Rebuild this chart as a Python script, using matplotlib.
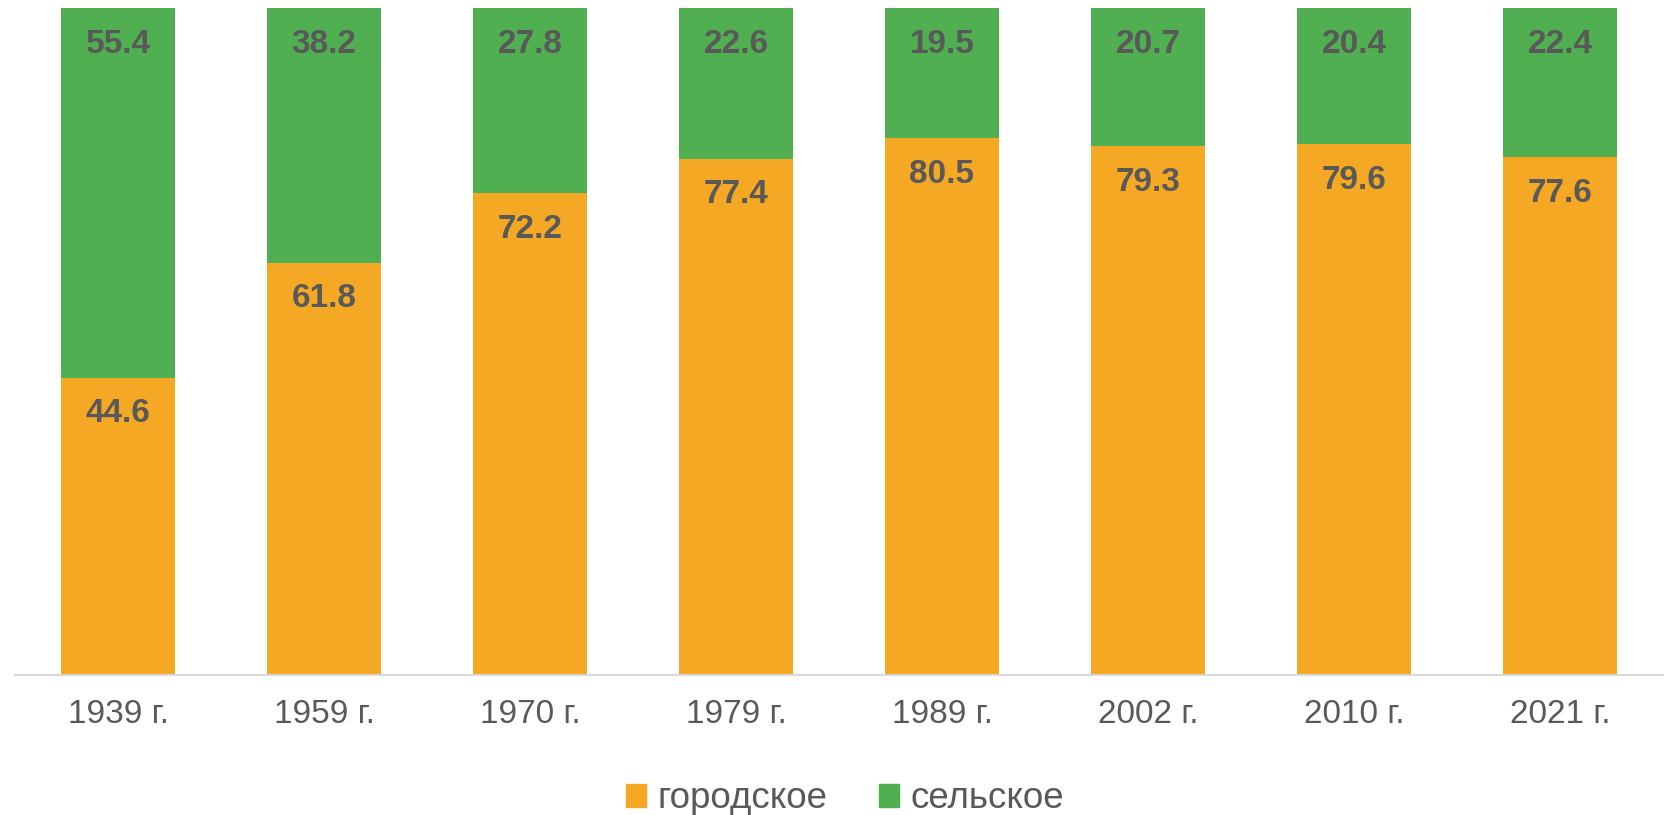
import matplotlib
matplotlib.use("Agg")
import matplotlib.pyplot as plt
from matplotlib.patches import Patch

plt.rcParams['font.family'] = ['Liberation Sans', 'DejaVu Sans']

years = ["1939 г.", "1959 г.", "1970 г.", "1979 г.", "1989 г.", "2002 г.", "2010 г.", "2021 г."]
urban = [44.6, 61.8, 72.2, 77.4, 80.5, 79.3, 79.6, 77.6]
rural = [55.4, 38.2, 27.8, 22.6, 19.5, 20.7, 20.4, 22.4]
series_names = ["городское", "сельское"]

c_urban = "#F5A824"
c_rural = "#50AF50"
c_text = "#595959"

fig = plt.figure(figsize=(16.73, 8.15), dpi=100)
ax = fig.add_axes([15/1673, 1-675/815, (1663-15)/1673, (675-8)/815])

x = list(range(len(years)))
w = 0.553
b1 = ax.bar(x, urban, width=w, color=c_urban, label=series_names[0])
b2 = ax.bar(x, rural, width=w, bottom=urban, color=c_rural, label=series_names[1])

for bars, vals, bottoms in ((b1, urban, [0]*len(urban)), (b2, rural, urban)):
    for xi, v, b in zip(x, vals, bottoms):
        ax.annotate(f"{v:.1f}", xy=(xi, b + v), xytext=(0, -26), textcoords="offset points",
                    ha="center", va="center", fontsize=24, fontweight="bold", color=c_text)

ax.set_xlim(-0.5, len(years) - 0.5)
ax.set_ylim(0, 100)
ax.set_yticks([])
ax.set_xticks(x)
ax.set_xticklabels(years, fontsize=24, color=c_text)
ax.tick_params(axis="x", length=0, pad=17)
for s in ("left", "right", "top"):
    ax.spines[s].set_visible(False)
ax.spines["bottom"].set_color("#D9D9D9")
ax.spines["bottom"].set_linewidth(1.5)

handles = [Patch(color=c_urban), Patch(color=c_rural)]
fig.legend(handles, series_names, loc="center", bbox_to_anchor=(845/1673, 1-799/815),
           ncol=2, frameon=False, fontsize=26.5, handlelength=0.55, handleheight=0.55,
           handletextpad=0.3, columnspacing=1.4, labelcolor=c_text)

fig.savefig("out.png", dpi=100)
